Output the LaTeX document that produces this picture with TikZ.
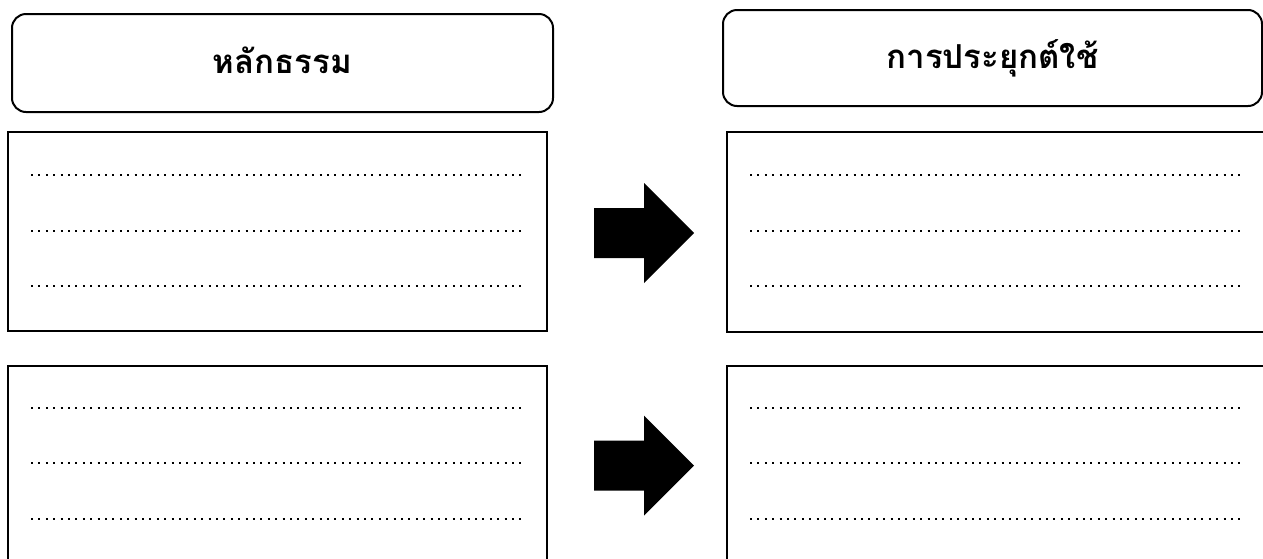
\documentclass[tikz,border=0pt]{standalone}
\usepackage{fontspec}
\newfontfamily\thaifont[Script=Thai]{Loma}
\begin{document}
\begin{tikzpicture}[x=0.5pt,y=-0.5pt,
  header/.style={draw, line width=1pt, rounded corners=7pt, inner sep=0pt,
    text height=10pt, text depth=0pt,
    font=\thaifont\bfseries\fontsize{16.5}{19}\selectfont},
  box/.style={draw, line width=0.75pt, inner sep=0pt},
  dotline/.style={line width=1pt, dash pattern=on 1pt off 2.7pt},
  blockarrow/.style={fill=black}
]
\useasboundingbox (0,0) rectangle (1263,558);
% headers
\node[header, minimum width=270.5pt, minimum height=49pt] (h1) at (282.5,63) {หลักธรรม};
\node[header, minimum width=269.5pt, minimum height=48pt] (h2) at (992.5,58) {การประยุกต์ใช้};
% boxes
\node[box, minimum width=269.5pt, minimum height=99.5pt] (b1) at (277.5,231.5) {};
\node[box, minimum width=269.5pt, minimum height=127pt] (b2) at (277.5,493) {};
\node[box, minimum width=286.5pt, minimum height=100pt] (c1) at (1013.5,232) {};
\node[box, minimum width=286.5pt, minimum height=127pt] (c2) at (1013.5,493) {};
% dotted lines
\foreach \y in {175,231,286,408,463,519}{
  \draw[dotline] (31,\y) -- (523,\y);
  \draw[dotline] (750,\y) -- (1242,\y);
}
% block arrows
\coordinate (a1) at (594,233);
\coordinate (a2) at (594,465.5);
\foreach \a in {a1,a2}{
  \fill[blockarrow, shift={(\a)}] (0,-25) -- (50,-25) -- (50,-50) -- (100,0) -- (50,50) -- (50,25) -- (0,25) -- cycle;
}
\end{tikzpicture}
\end{document}
